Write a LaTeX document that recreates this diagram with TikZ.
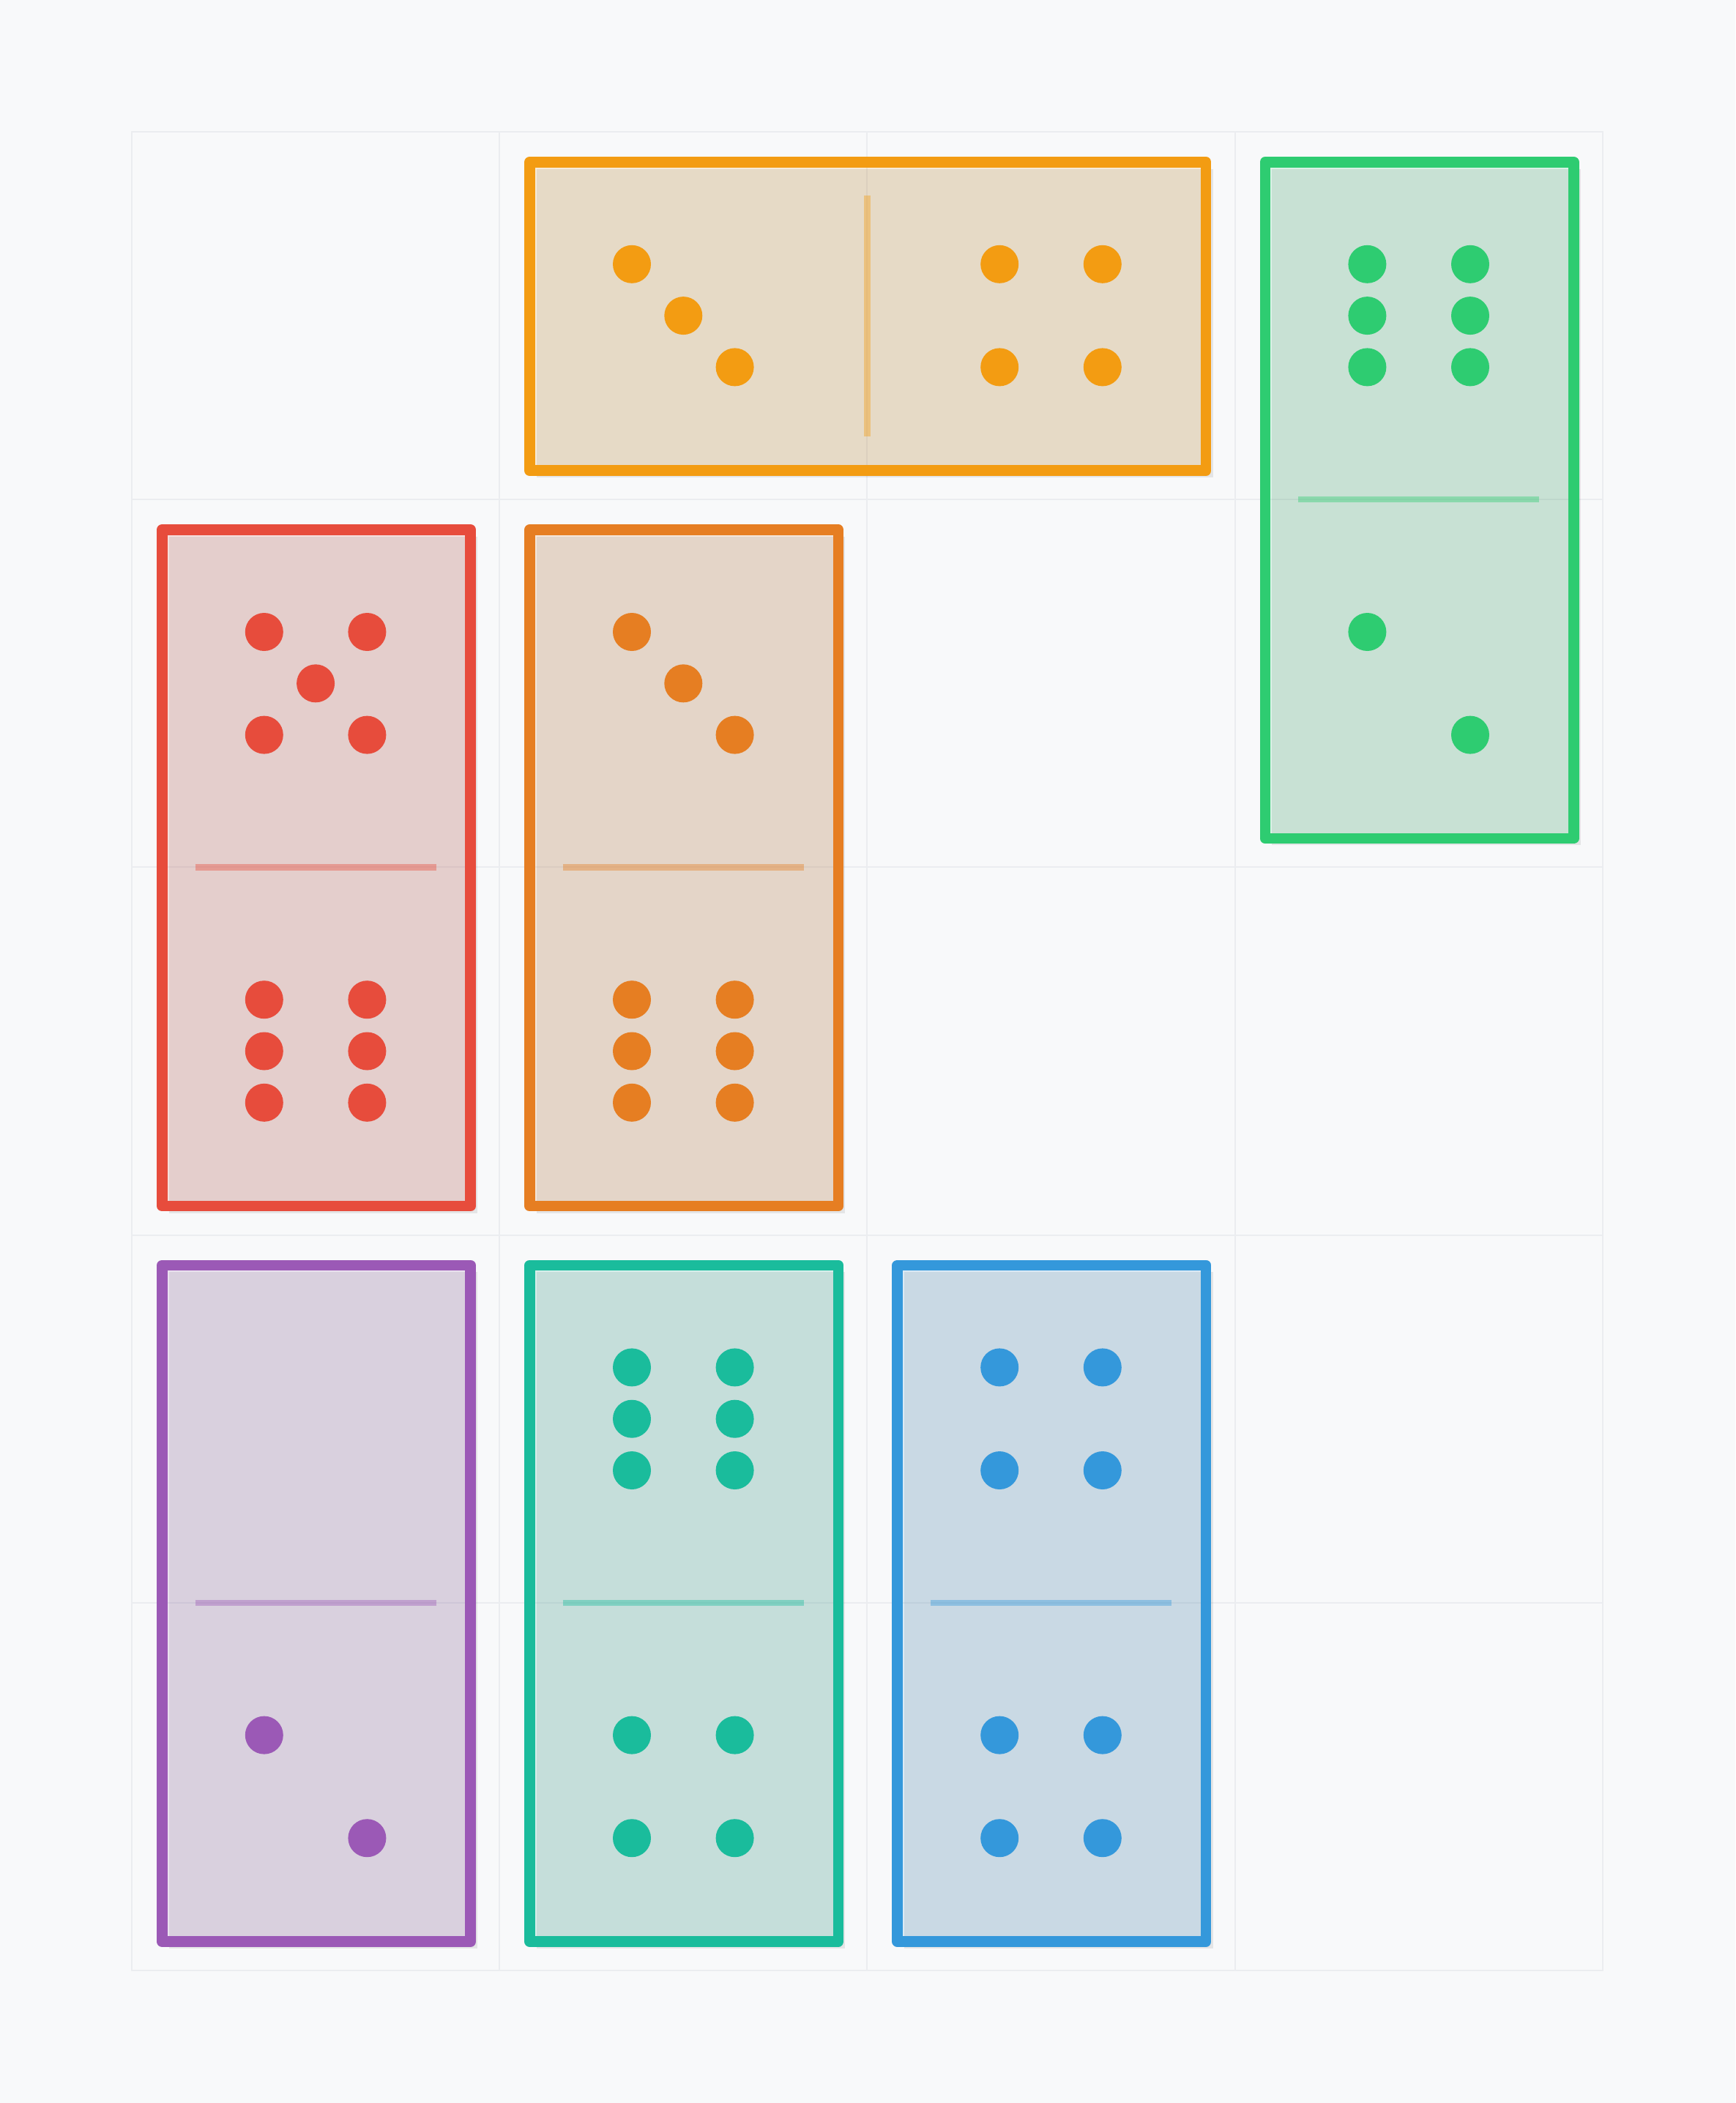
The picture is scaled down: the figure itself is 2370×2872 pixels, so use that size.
\documentclass[tikz,border=0pt]{standalone}
\definecolor{bg}{HTML}{F8F9FA}
\definecolor{gridc}{HTML}{EBEDF0}
\definecolor{cOrangeA}{HTML}{F39C12}
\definecolor{cOrangeB}{HTML}{E67E22}
\definecolor{cGreen}{HTML}{2ECC71}
\definecolor{cRed}{HTML}{E74C3C}
\definecolor{cPurple}{HTML}{9B59B6}
\definecolor{cTeal}{HTML}{1ABC9C}
\definecolor{cBlue}{HTML}{3498DB}
\tikzset{
  gridline/.style={draw=gridc, line width=0.2mm, line cap=rect},
  dshadow/.style={fill=black, fill opacity=0.08},
  dbody/.style={draw=#1, fill=#1, fill opacity=0.15, line width=1.47mm, line join=round},
  ddivider/.style={draw=#1, draw opacity=0.4, line width=0.85mm},
  dpip/.style={fill=#1}
}
\newcommand\dominobox[5]{%
  \fill[dshadow] (#1+9.5,#2+9.5) rectangle (#3+9.5,#4+9.5);
  \draw[dbody=#5] (#1,#2) rectangle (#3,#4);}
\newcommand\pipat[3]{\fill[dpip=#3] (#1,#2) circle[radius=2.6mm];}
\newcommand\pipstwo[3]{\pipat{#1-70.3}{#2-70.3}{#3}\pipat{#1+70.3}{#2+70.3}{#3}}
\newcommand\pipsthree[3]{\pipat{#1-70.3}{#2-70.3}{#3}\pipat{#1}{#2}{#3}\pipat{#1+70.3}{#2+70.3}{#3}}
\newcommand\pipsfour[3]{\pipat{#1-70.3}{#2-70.3}{#3}\pipat{#1+70.3}{#2-70.3}{#3}\pipat{#1-70.3}{#2+70.3}{#3}\pipat{#1+70.3}{#2+70.3}{#3}}
\newcommand\pipsfive[3]{\pipsfour{#1}{#2}{#3}\pipat{#1}{#2}{#3}}
\newcommand\pipssix[3]{\pipsfour{#1}{#2}{#3}\pipat{#1-70.3}{#2}{#3}\pipat{#1+70.3}{#2}{#3}}
\begin{document}
\begin{tikzpicture}[x=0.1mm,y=-0.1mm]
\fill[bg] (0,0) rectangle (2370,2872);
\useasboundingbox (0,0) rectangle (2370,2872);
% grid
\foreach \k in {0,...,4} \draw[gridline] ({180+502.2*\k},180) -- ({180+502.2*\k},2691);
\foreach \k in {0,...,5} \draw[gridline] (180,{180+502.2*\k}) -- (2188.8,{180+502.2*\k});
% 1 horizontal orange domino (3|4)
\dominobox{723.5}{221.3}{1647.1}{642.7}{cOrangeA}
\draw[ddivider=cOrangeA] (1184.4,266.7) -- (1184.4,595.5);
\pipsthree{933.3}{431.1}{cOrangeA}
\pipsfour{1435.5}{431.1}{cOrangeA}
% 2 green domino (6/2)
\dominobox{1727.9}{221.3}{2149.3}{1144.9}{cGreen}
\draw[ddivider=cGreen] (1773.3,682.2) -- (2102.1,682.2);
\pipssix{1937.7}{431.1}{cGreen}
\pipstwo{1937.7}{933.3}{cGreen}
% 3 red domino (5/6)
\dominobox{221.3}{723.5}{642.7}{1647.1}{cRed}
\draw[ddivider=cRed] (266.7,1184.4) -- (595.5,1184.4);
\pipsfive{431.1}{933.3}{cRed}
\pipssix{431.1}{1435.5}{cRed}
% 4 orange domino (3/6)
\dominobox{723.5}{723.5}{1144.9}{1647.1}{cOrangeB}
\draw[ddivider=cOrangeB] (768.9,1184.4) -- (1097.7,1184.4);
\pipsthree{933.3}{933.3}{cOrangeB}
\pipssix{933.3}{1435.5}{cOrangeB}
% 5 purple domino (0/2)
\dominobox{221.3}{1727.9}{642.7}{2651.5}{cPurple}
\draw[ddivider=cPurple] (266.7,2188.8) -- (595.5,2188.8);
\pipstwo{431.1}{2439.9}{cPurple}
% 6 teal domino (6/4)
\dominobox{723.5}{1727.9}{1144.9}{2651.5}{cTeal}
\draw[ddivider=cTeal] (768.9,2188.8) -- (1097.7,2188.8);
\pipssix{933.3}{1937.7}{cTeal}
\pipsfour{933.3}{2439.9}{cTeal}
% 7 blue domino (4/4)
\dominobox{1225.7}{1727.9}{1647.1}{2651.5}{cBlue}
\draw[ddivider=cBlue] (1271.1,2188.8) -- (1599.9,2188.8);
\pipsfour{1435.5}{1937.7}{cBlue}
\pipsfour{1435.5}{2439.9}{cBlue}
\end{tikzpicture}
\end{document}
